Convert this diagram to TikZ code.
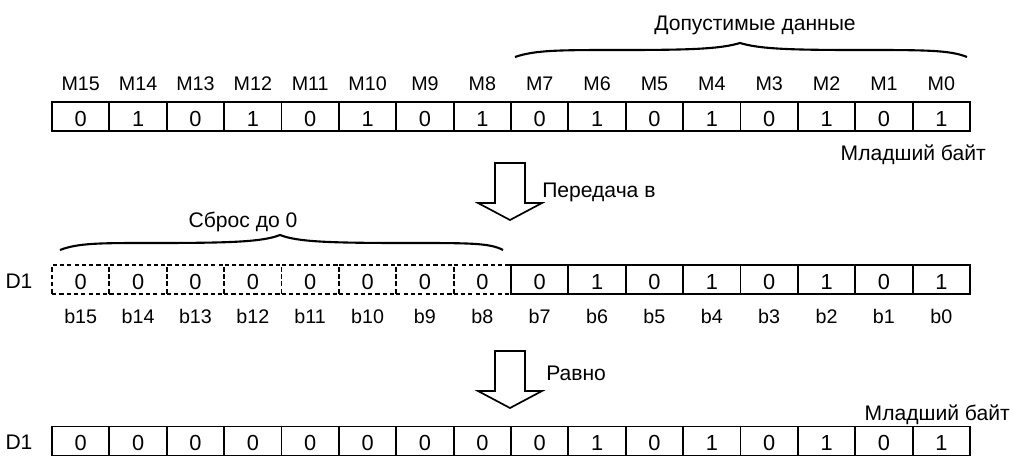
\documentclass[tikz,border=0pt]{standalone}
\usepackage{fontspec}
\setmainfont{Liberation Sans}
\usetikzlibrary{positioning}

\begin{document}
\begin{tikzpicture}[
    x=0.025cm, y=-0.025cm,
    cell/.style={draw, line width=1.3pt, minimum width=1.434cm, minimum height=0.725cm, inner sep=0pt, text height=0.6cm, text depth=0.125cm, font=\fontsize{15.5}{17}\selectfont},
    dcell/.style={cell, dash pattern=on 3pt off 2.2pt},
    bitlbl/.style={font=\fontsize{14}{16}\selectfont, inner sep=0pt, anchor=base},
    txt/.style={font=\fontsize{15}{17}\selectfont, inner sep=0pt},
    blk/.style={draw, line width=1.2pt, line join=miter, fill=white},
    brc/.style={line width=1.5pt}
]
\useasboundingbox (0,0) rectangle (1014,455);

% source word M15..M0
\foreach \k in {0,...,15} {
  \pgfmathsetmacro\cx{52+57.375*(15.5-\k)}
  \pgfmathtruncatemacro\v{1-mod(\k,2)}
  \node[cell] (m\k) at (\cx,116.5) {\v};
  \node[bitlbl] (lm\k) at (\cx,90) {M\k};
}
\draw[brc] (515,57) .. controls (535,50) and (560,50) .. (620,50) .. controls (690,50) and (720,49) .. (740,43) .. controls (760,49) and (790,50) .. (860,50) .. controls (925,50) and (950,50) .. (967,57);
\node[txt, anchor=base] (valid) at (755,30) {Допустимые данные};
\node[txt, anchor=base east] (low1) at (986,160) {Младший байт};

% transfer arrow
\coordinate (t1) at (510,163);
\draw[blk] (t1) ++(-15,0) -- ++(30,0) -- ++(0,40) -- ++(17,0) -- ++(-32,17) -- ++(-32,-17) -- ++(17,0) -- cycle;
\node[txt, anchor=base west] (xfer) at (542,197) {Передача в};

% D1 after transfer
\node[txt, anchor=base] (d1a) at (19,288) {D1};
\foreach \k in {8,...,15} {
  \pgfmathsetmacro\cx{52+57.375*(15.5-\k)}
  \node[dcell] (d\k) at (\cx,279.5) {0};
}
\foreach \k in {0,...,7} {
  \pgfmathsetmacro\cx{52+57.375*(15.5-\k)}
  \pgfmathtruncatemacro\v{1-mod(\k,2)}
  \node[cell] (d\k) at (\cx,279.5) {\v};
}
\foreach \k in {0,...,15} {
  \pgfmathsetmacro\cx{52+57.375*(15.5-\k)}
  \node[bitlbl] (lb\k) at (\cx,323) {b\k};
}
\draw[brc] (60,250) .. controls (78,243) and (100,243) .. (150,243) .. controls (230,243) and (262,242) .. (280,235) .. controls (298,242) and (330,243) .. (410,243) .. controls (470,243) and (490,243) .. (503,250);
\node[txt, anchor=base] (reset) at (243,227) {Сброс до 0};

% equal arrow
\coordinate (t2) at (510,351);
\draw[blk] (t2) ++(-15,0) -- ++(30,0) -- ++(0,40) -- ++(17,0) -- ++(-32,17) -- ++(-32,-17) -- ++(17,0) -- cycle;
\node[txt, anchor=base west] (eq) at (546,380) {Равно};
\node[txt, anchor=base east] (low2) at (1010,420) {Младший байт};

% result D1
\node[txt, anchor=base] (d1b) at (19,449) {D1};
\foreach \k in {0,...,15} {
  \pgfmathsetmacro\cx{52+57.375*(15.5-\k)}
  \pgfmathtruncatemacro\v{\k<8 ? 1-mod(\k,2) : 0}
  \node[cell] (r\k) at (\cx,441) {\v};
}
\end{tikzpicture}
\end{document}
